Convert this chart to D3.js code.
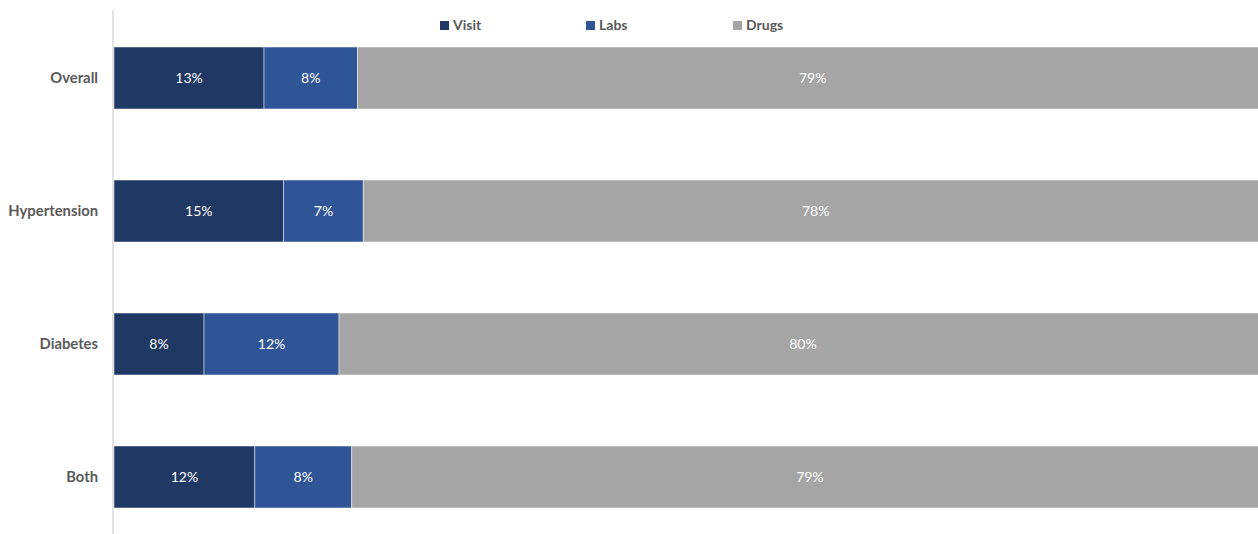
<!DOCTYPE html>
<html>
<head>
<meta charset="utf-8">
<script src="https://cdn.jsdelivr.net/npm/d3@7"></script>
<style>
  html, body { margin: 0; padding: 0; background: #fff; overflow: hidden; }
  svg { display: block; }
</style>
</head>
<body>
<svg id="chart" width="1258" height="534"></svg>
<script>
const categories = ["Overall", "Hypertension", "Diabetes", "Both"];
const seriesNames = ["Visit", "Labs", "Drugs"];
const visit = [13.0, 14.7, 7.8, 12.2];
const labs  = [8.1, 6.9, 11.7, 8.4];
const drugs = [78.9, 78.4, 80.4, 79.4];
const colors = ["#203864", "#2F5597", "#A5A5A5"];

const W = 1258, H = 534;
const plotLeft = 114, plotRight = 1268; // plot area extends slightly past the visible edge
const svg = d3.select("#chart");
const font = "Lato, 'Open Sans', sans-serif";

const rows = categories.map((c, i) => ({ cat: c, Visit: visit[i], Labs: labs[i], Drugs: drugs[i] }));
const stack = d3.stack().keys(seriesNames)(rows);

const x = d3.scaleLinear().domain([0, 100]).range([plotLeft, plotRight]);
const y = d3.scaleBand().domain(categories).range([11.5, 543.5]).paddingInner(0.534).paddingOuter(0.267);
const color = d3.scaleOrdinal().domain(seriesNames).range(colors);

// bars
const g = svg.append("g");
stack.forEach(layer => {
  const lg = g.append("g");
  lg.selectAll("rect").data(layer).join("rect")
    .attr("x", d => x(d[0]))
    .attr("y", d => y(d.data.cat))
    .attr("width", d => x(d[1]) - x(d[0]))
    .attr("height", y.bandwidth())
    .attr("fill", color(layer.key))
    .attr("stroke", "#ffffff")
    .attr("stroke-opacity", 0.6)
    .attr("stroke-width", 0.8);
  lg.selectAll("text").data(layer).join("text")
    .attr("x", d => (x(d[0]) + x(d[1])) / 2)
    .attr("y", d => y(d.data.cat) + y.bandwidth() / 2)
    .attr("dy", "0.36em")
    .attr("text-anchor", "middle")
    .attr("fill", "#ffffff")
    .attr("font-family", font)
    .attr("font-size", 14)
    .text(d => Math.round(d[1] - d[0]) + "%");
});

// y axis
const yAxis = svg.append("g")
  .attr("transform", `translate(${plotLeft - 1},0)`)
  .call(d3.axisLeft(y).tickSize(0).tickPadding(15));
yAxis.select(".domain").attr("stroke", "#d9d9d9").attr("stroke-width", 1.5)
  .attr("d", `M0,10V${H}`);
yAxis.selectAll("text")
  .attr("font-family", font)
  .attr("font-size", 14.8)
  .attr("font-weight", "bold")
  .attr("fill", "#595959");

// legend
const legendX = [440, 586, 733];
const legend = svg.append("g");
seriesNames.forEach((s, i) => {
  legend.append("rect")
    .attr("x", legendX[i]).attr("y", 21)
    .attr("width", 9).attr("height", 9)
    .attr("fill", color(s));
  legend.append("text")
    .attr("x", legendX[i] + 13).attr("y", 30)
    .attr("font-family", font)
    .attr("font-size", 14)
    .attr("font-weight", "bold")
    .attr("fill", "#595959")
    .text(s);
});
</script>
</body>
</html>
